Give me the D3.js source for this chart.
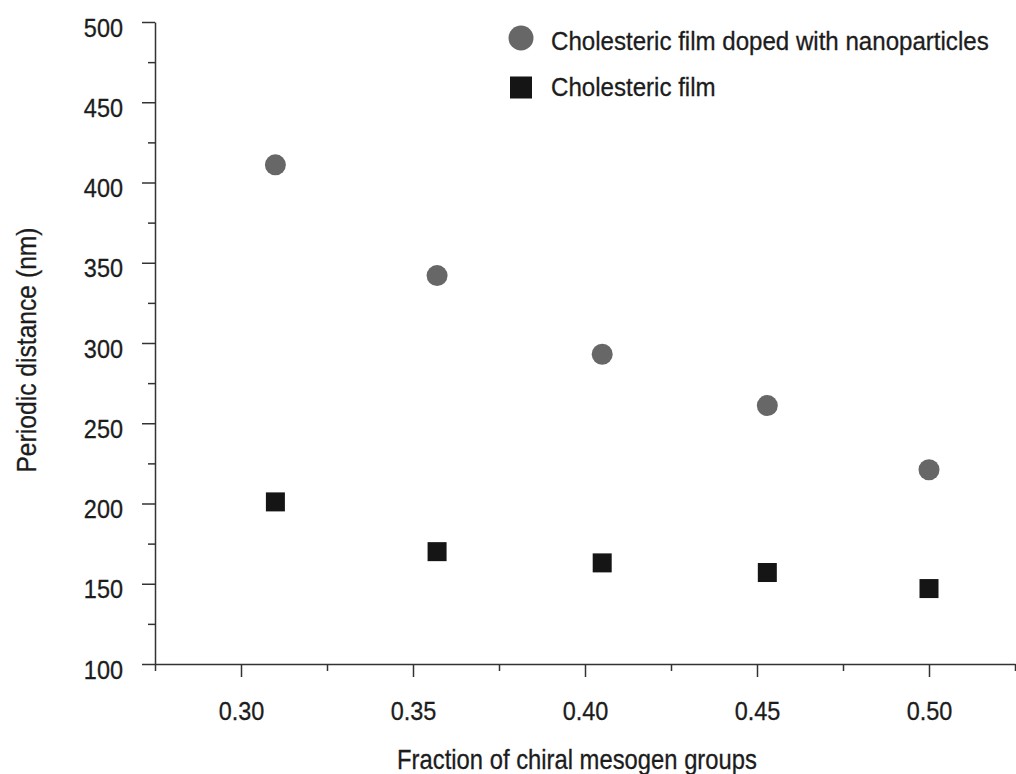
<!DOCTYPE html>
<html>
<head>
<meta charset="utf-8">
<script src="https://cdn.jsdelivr.net/npm/d3@7"></script>
<style>
  html, body { margin: 0; padding: 0; background: #fff; }
  svg { display: block; font-family: "Liberation Sans", Arial, sans-serif; }
</style>
</head>
<body>
<svg id="chart" width="1016" height="774"></svg>
<script>
// ---- data ----
const fractions = [0.31, 0.357, 0.405, 0.453, 0.50];
const dopedValues = [411, 342, 293, 261, 221];
const filmValues = [201, 170, 163, 157, 147];
const seriesNames = ["Cholesteric film doped with nanoparticles", "Cholesteric film"];
const xTicks = [0.30, 0.35, 0.40, 0.45, 0.50];
const xMinorTicks = [0.275, 0.325, 0.375, 0.425, 0.475, 0.525];
const yTicks = [100, 150, 200, 250, 300, 350, 400, 450, 500];
const yMinorTicks = [125, 175, 225, 275, 325, 375, 425, 475];
const xTitle = "Fraction of chiral mesogen groups";
const yTitle = "Periodic distance (nm)";

// ---- layout ----
const svg = d3.select("#chart");
const x = d3.scaleLinear().domain([0.275, 0.525]).range([155, 1015]);
const y = d3.scaleLinear().domain([100, 500]).range([664, 22]);
const axisColor = "#333";
const textColor = "#1c1c1c";

function condense(sel, k) {
  sel.each(function () {
    const w = this.getComputedTextLength();
    d3.select(this).attr("textLength", w * k).attr("lengthAdjust", "spacingAndGlyphs");
  });
}
function heavy(sel) {
  sel.attr("stroke", textColor).attr("stroke-width", 0.3);
}

// minor ticks
svg.append("g")
  .attr("transform", `translate(0,${y(100)})`)
  .call(d3.axisBottom(x).tickValues(xMinorTicks).tickSize(7).tickSizeOuter(0).tickFormat(""))
  .call(g => g.select(".domain").remove())
  .call(g => g.selectAll("line").attr("stroke", axisColor).attr("stroke-width", 1.5));
svg.append("g")
  .attr("transform", `translate(${x(0.275)},0)`)
  .call(d3.axisLeft(y).tickValues(yMinorTicks).tickSize(7).tickSizeOuter(0).tickFormat(""))
  .call(g => g.select(".domain").remove())
  .call(g => g.selectAll("line").attr("stroke", axisColor).attr("stroke-width", 1.5));

// x axis
const gx = svg.append("g")
  .attr("transform", `translate(0,${y(100)})`)
  .call(d3.axisBottom(x).tickValues(xTicks).tickSize(13).tickSizeOuter(0).tickFormat(d3.format(".2f")));
gx.select(".domain").attr("stroke", axisColor).attr("stroke-width", 1.5);
gx.selectAll(".tick line").attr("stroke", axisColor).attr("stroke-width", 1.5);
gx.selectAll(".tick text")
  .attr("y", 56).attr("dy", 0)
  .attr("font-size", 25.5).attr("fill", textColor)
  .call(heavy)
  .call(condense, 0.92);

// y axis
const gy = svg.append("g")
  .attr("transform", `translate(${x(0.275)},0)`)
  .call(d3.axisLeft(y).tickValues(yTicks).tickSize(13).tickPadding(19).tickSizeOuter(0).tickFormat(d3.format("d")));
gy.select(".domain").attr("stroke", axisColor).attr("stroke-width", 1.5);
gy.selectAll(".tick line").attr("stroke", axisColor).attr("stroke-width", 1.5);
gy.selectAll(".tick text")
  .attr("dy", 14)
  .attr("font-size", 25.5).attr("fill", textColor)
  .call(heavy)
  .call(condense, 0.92);

// axis titles
svg.append("text")
  .attr("x", 577).attr("y", 769)
  .attr("text-anchor", "middle")
  .attr("font-size", 28).attr("fill", textColor)
  .call(heavy)
  .text(xTitle)
  .call(condense, 0.85);
svg.append("text")
  .attr("transform", "translate(36,350) rotate(-90)")
  .attr("text-anchor", "middle")
  .attr("font-size", 28).attr("fill", textColor)
  .call(heavy)
  .text(yTitle)
  .call(condense, 0.88);

// data: doped (circles)
svg.append("g").selectAll("circle")
  .data(fractions.map((f, i) => ({ f, v: dopedValues[i] })))
  .join("circle")
  .attr("cx", d => x(d.f))
  .attr("cy", d => y(d.v))
  .attr("r", 10.5)
  .attr("fill", "#676767");

// data: film (squares)
const sq = 19;
svg.append("g").selectAll("rect")
  .data(fractions.map((f, i) => ({ f, v: filmValues[i] })))
  .join("rect")
  .attr("x", d => x(d.f) - sq / 2)
  .attr("y", d => y(d.v) - sq / 2)
  .attr("width", sq).attr("height", sq)
  .attr("fill", "#151515");

// legend
const lg = svg.append("g");
lg.append("circle").attr("cx", 521).attr("cy", 38).attr("r", 12.5).attr("fill", "#676767");
lg.append("rect").attr("x", 510).attr("y", 76.5).attr("width", 22).attr("height", 22).attr("fill", "#151515");
lg.selectAll("text")
  .data(seriesNames)
  .join("text")
  .attr("x", 0).attr("y", 0)
  .attr("transform", (d, i) => `translate(551,${i === 0 ? 50 : 96}) scale(0.927,1)`)
  .attr("font-size", 26).attr("fill", textColor)
  .call(heavy)
  .text(d => d);
</script>
</body>
</html>
